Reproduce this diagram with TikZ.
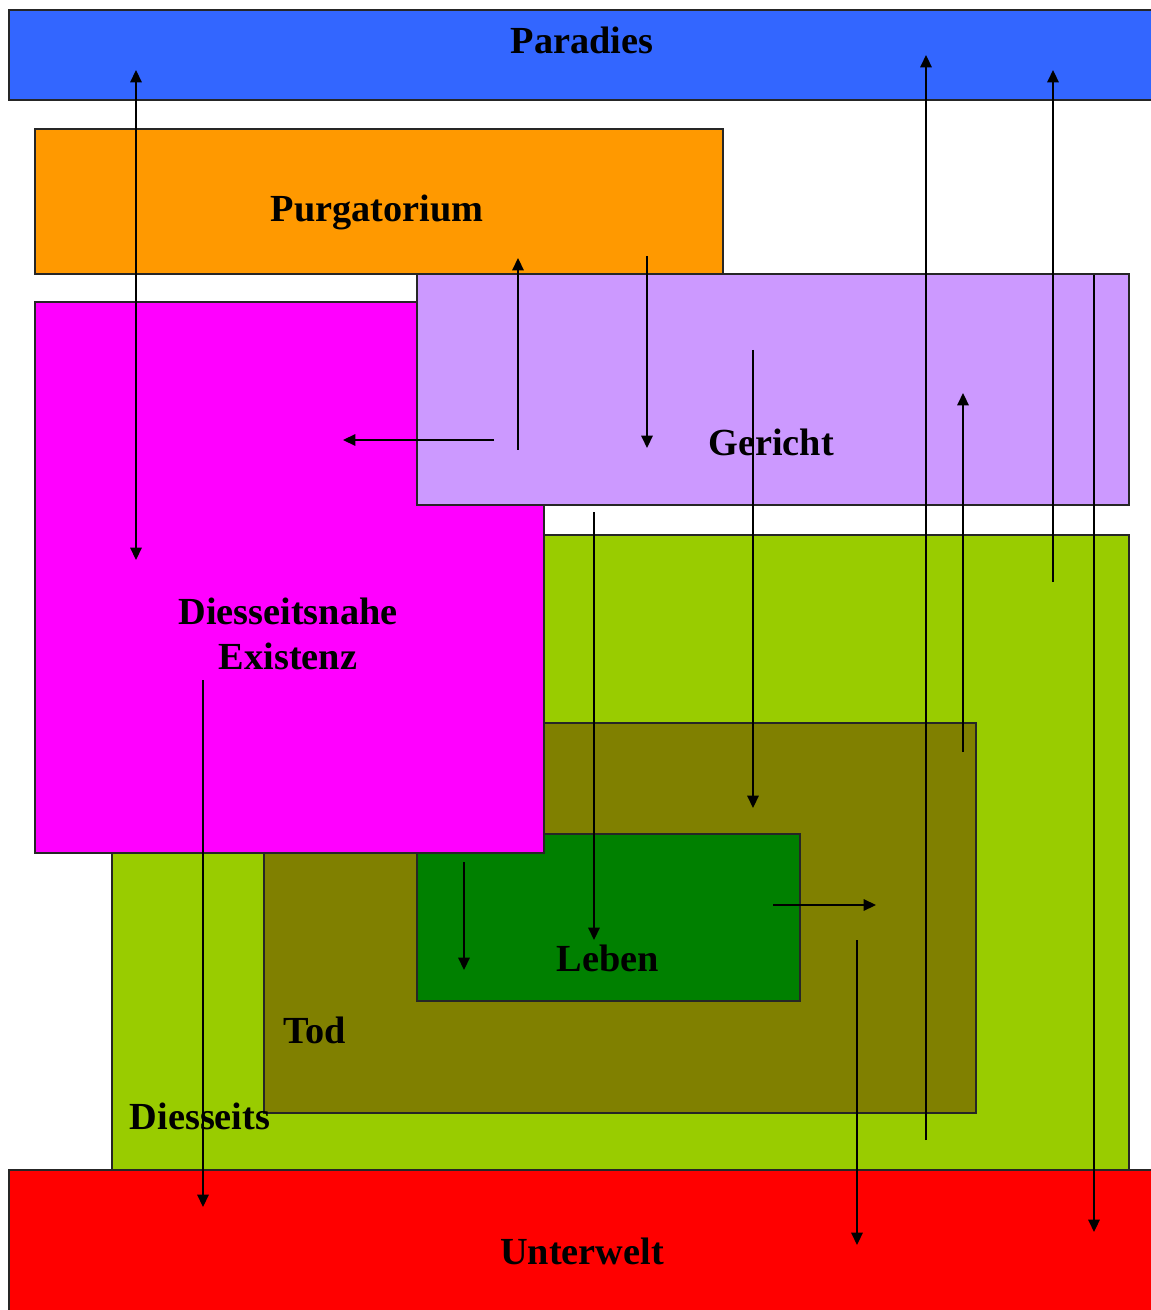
\documentclass[tikz,border=0pt]{standalone}
\usepackage{fontspec}
\setmainfont{Liberation Serif}
\usetikzlibrary{arrows.meta}
\definecolor{paradiesblau}{HTML}{3366FF}
\definecolor{purgorange}{HTML}{FF9900}
\definecolor{gerichtlila}{HTML}{CC99FF}
\definecolor{nahemagenta}{HTML}{FF00FF}
\definecolor{diesseitsgruen}{HTML}{99CC00}
\definecolor{todoliv}{HTML}{808000}
\definecolor{lebengruen}{HTML}{008000}
\definecolor{unterweltrot}{HTML}{FF0000}
\begin{document}
\begin{tikzpicture}[x=0.02cm,y=-0.02cm,>={Triangle[length=7pt,width=6.5pt]},
        area/.style={draw=black!85,line width=0.7pt},
        lbl/.style={font=\fontsize{21.8}{25.5}\selectfont\bfseries,anchor=base,inner sep=0pt,align=center},
        flow/.style={->,line width=0.9pt}]
        \useasboundingbox (0,0) rectangle (1151,1310);
        \filldraw[area,fill=paradiesblau] (9,10) rectangle (1160,100);
        \filldraw[area,fill=purgorange] (35,129) rectangle (723,274);
        \filldraw[area,fill=diesseitsgruen] (112,535) rectangle (1129,1170);
        \filldraw[area,fill=todoliv] (264,723) rectangle (976,1113);
        \filldraw[area,fill=lebengruen] (417,834) rectangle (800,1001);
        \filldraw[area,fill=nahemagenta] (35,302) rectangle (544,853);
        \filldraw[area,fill=gerichtlila] (417,274) rectangle (1129,505);
        \filldraw[area,fill=unterweltrot] (9,1170) rectangle (1160,1320);
        \node[lbl] (paradies) at (582,54) {Paradies};
        \node[lbl] (purgatorium) at (377,222) {Purgatorium};
        \node[lbl] (gericht) at (771,456) {Gericht};
        \node[lbl] (nahe) at (288,669) {Diesseitsnahe\\Existenz};
        \node[lbl] (diesseits) at (200,1129) {Diesseits};
        \node[lbl] (tod) at (315,1043) {Tod};
        \node[lbl] (leben) at (608,971) {Leben};
        \node[lbl] (unterwelt) at (582,1264) {Unterwelt};
        \coordinate (wander-a) at (136,70);
        \coordinate (wander-b) at (136,560);
        \draw[flow,<->] (wander-a) -- (wander-b);
        \foreach \n/\xa/\ya/\xb/\yb in {aufstieg/518/450/518/258, abstieg/647/256/647/448,
            rueckweg/494/440/343/440, urteil/753/350/753/808, himmel/926/1140/926/55,
            erloest/1053/582/1053/70, verdammt/1094/275/1094/1232, zurueck/963/752/963/393,
            geburt/594/512/594/940, schatten/203/680/203/1207, sterben/464/862/464/970,
            uebergang/773/905/876/905, hades/857/940/857/1245} {
            \coordinate (\n-s) at (\xa,\ya);
            \coordinate (\n-e) at (\xb,\yb);
            \draw[flow] (\n-s) -- (\n-e);
        }
    \end{tikzpicture}
\end{document}
